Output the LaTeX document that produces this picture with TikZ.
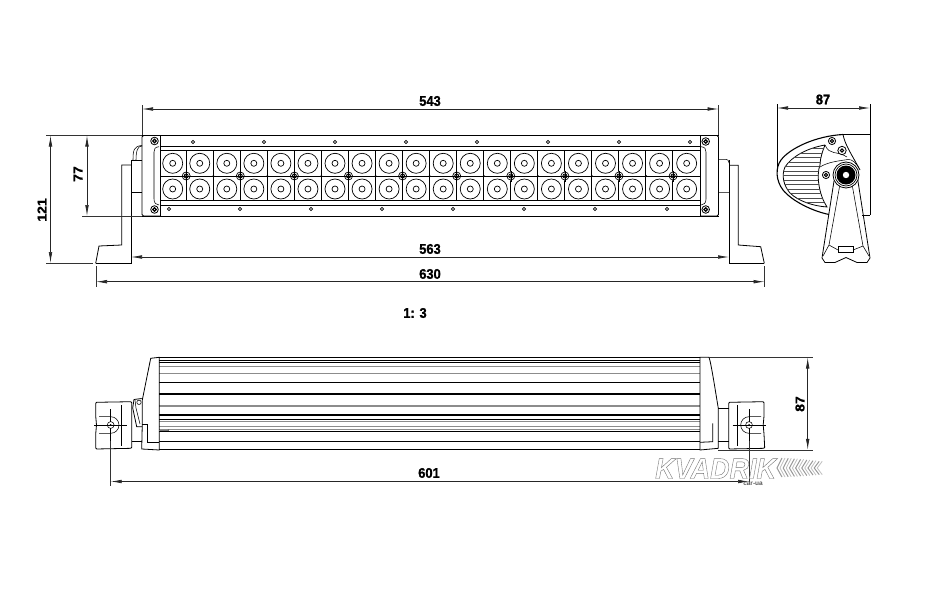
\documentclass[tikz,border=0pt]{standalone}
\usepackage{fontspec}
\setmainfont{Liberation Sans}
\newfontfamily\wmfont[FakeBold=1.4]{Liberation Sans Bold Italic}
\newfontfamily\dimfont[FakeBold=1.2]{Liberation Sans Bold}
\usetikzlibrary{arrows.meta}
\tikzset{
 ln/.style={line width=0.8pt,black},
 thin ln/.style={line width=0.55pt,black},
 grayln/.style={line width=1.3pt,black!45},
 heavy/.style={line width=1pt,black},
 dimline/.style={line width=0.7pt,black!85,{Latex[length=11pt,width=3.6pt]}-{Latex[length=11pt,width=3.6pt]}},
 ext/.style={line width=0.6pt,black!80},
 dimtext/.style={font=\dimfont\fontsize{14}{14}\selectfont,inner sep=0pt,xscale=0.92},
 center line/.style={line width=0.55pt,black},
}
\begin{document}
\begin{tikzpicture}[x=1pt,y=-1pt]
\useasboundingbox[fill=white] (0,0) rectangle (927,589);

% ---------- front view: plate ----------
\draw[ln] (142,135.5) -- (718.5,135.5);
\draw[ln] (142,216) -- (718.5,216);
\draw[ln,rounded corners=1.5pt] (160,135.5) -- (142,135.5) -- (142,216) -- (160,216);
\draw[ln,rounded corners=1.5pt] (700,135.5) -- (718.5,135.5) -- (718.5,216) -- (700,216);
\draw[ln] (160,135.5) -- (160,216) (700,135.5) -- (700,216);
\draw[ln] (160,146.7) -- (700,146.7);
\draw[ln] (160,205) -- (700,205);
\draw[thin ln] (159,146.7) .. controls (155,147) and (154,149) .. (154,152) -- (154,199) .. controls (154,203) and (156,205) .. (159,205);
\draw[thin ln] (701,146.7) .. controls (705,147) and (706,149) .. (706,152) -- (706,199) .. controls (706,203) and (704,205) .. (701,205);
% LED block
\draw[heavy] (160,150.7) rectangle (700,200);
\draw[thin ln] (160,176) -- (700,176);
\foreach \k in {1,...,19}{
  \pgfmathsetmacro{\xx}{159.5+27*\k}
  \pgfmathtruncatemacro{\odd}{mod(\k,2)}
  \ifnum\odd=0 \draw[heavy] (\xx,150.7) -- (\xx,200); \else \draw[thin ln] (\xx,150.7) -- (\xx,200); \fi
}
\foreach \k in {0,...,19}{
  \pgfmathsetmacro{\xx}{172.7+27.05*\k}
  \foreach \yy in {163.3,189}{
    \draw[line width=0.7pt,fill=white] (\xx,\yy) circle (10);
    \draw[line width=0.7pt] (\xx,\yy) circle (3);
  }
}
% centre screws
\foreach \k in {0,...,9}{
  \pgfmathsetmacro{\xx}{186.2+54.1*\k}
  \fill[white] (\xx,176) circle (4.5);
  \draw[line width=0.7pt] (\xx,176) circle (4);
  \draw[line width=0.9pt] (\xx,176) circle (2);
  \draw[line width=0.6pt] (\xx-5.5,176) -- (\xx+5.5,176) (\xx,170.5) -- (\xx,181.5);
}
\foreach \k in {0,...,18}{
  \pgfmathsetmacro{\xx}{186.2+27.05*\k}
  \fill (\xx,176) circle (1);
}
% strip holes
\foreach \xx in {193,264,335,406,477,548,619,690} \draw[line width=0.65pt,fill=white] (\xx,142) circle (1.7);
\foreach \xx in {169,240,311,382,453,524,595,667} \draw[line width=0.65pt,fill=white] (\xx,209) circle (1.7);
% corner screws
\foreach \xx/\yy in {154.5/141,154.5/209.5,705.7/141.5,705.7/209.5}{
  \draw[line width=0.8pt] (\xx,\yy) circle (3.8);
  \draw[line width=1.2pt] (\xx,\yy) circle (1.8);
}
% left bracket
\draw[ln] (95.7,263.3) -- (131,263.3) -- (131,160);
\draw[ln] (95.7,263.3) -- (99,246) -- (121.7,245) -- (121.7,165) -- (131,165);
\draw[thin ln] (131,160) -- (142,160) (131,192.7) -- (142,192.7);
\draw[thin ln] (133,160) .. controls (133,150) and (134,146) .. (142,145.5);
\draw[thin ln] (136,160) .. controls (136,150) and (138,146) .. (142,146);
% right bracket
\draw[ln] (764.3,263.3) -- (729,263.3) -- (729,160);
\draw[ln] (764.3,263.3) -- (760.7,246.7) -- (738.3,245) -- (738.3,165.3) -- (729,165.3);
\draw[thin ln] (718.5,159.3) -- (726,159.3) .. controls (728,159.3) and (729,161) .. (729,163) (718.5,192.7) -- (729,192.7);

% ---------- side view ----------
\draw[ln] (777,104) -- (777,172);
\draw[ln] (870,104) -- (870,215);
\draw[ln] (843,134.5) -- (870,134.5);
\draw[ln] (862,215) -- (870,215);
\draw[line width=1.1pt] (843,134.5) .. controls (816,136) and (790,148) .. (781,160)
  .. controls (775,168) and (776,181) .. (783,190) .. controls (792,201) and (812,211) .. (829,214.5);
\draw[ln] (825,145) .. controls (808,148) and (792,156) .. (785,167) .. controls (781,176) and (784,186) .. (790,193)
  .. controls (798,201) and (813,206) .. (827,207) .. controls (819,195) and (816,175) .. (820,165) .. controls (820,158) and (823,150) .. (825,145);
\begin{scope}
 \clip (825,145) .. controls (808,148) and (792,156) .. (785,167) .. controls (781,176) and (784,186) .. (790,193)
  .. controls (798,201) and (813,206) .. (827,207) .. controls (819,195) and (816,175) .. (820,165) .. controls (820,158) and (823,150) .. (825,145);
 \foreach \yy in {148.5,153,157.5,162,166.5,171,175.5,180,184.5,189,193.5,198,202.5}
   \draw[line width=1pt,black!70] (780,\yy) -- (830,\yy);
\end{scope}
\draw[ln] (843,134.5) .. controls (845,145) and (852,155) .. (860,170);
\draw[thin ln] (820,167) .. controls (828,162) and (838,161) .. (848,159.5) .. controls (852,159) and (856,163) .. (859,168);
\draw[thin ln] (825,145) .. controls (830,156) and (836,150) .. (847,157);
% legs
\draw[ln] (834,181) -- (822,258) -- (825,262.5) -- (835,262.5) -- (846,257.5) -- (857,262.5) -- (867,262.5) -- (870,258) -- (857,175);
\draw[thin ln] (840,184) -- (829,245) -- (823,256);
\draw[thin ln] (852,184) -- (863,246) -- (869,256);
\draw[thin ln] (829,245) -- (838,250) (863,246) -- (853,250);
\draw[thin ln] (838,246) rectangle (853,252);
% knob
\draw[ln,fill=white] (846,175) circle (13);
\draw[line width=0.7pt] (846,175) circle (11);
\fill (846,175) circle (9.5);
\fill[white] (846,175) circle (3.2);
\foreach \xx/\yy/\rr in {832/141/3.6,842/150.5/4.2,826/175/3.6}{
  \draw[line width=0.8pt,fill=white] (\xx,\yy) circle (\rr);
  \draw[line width=1.1pt] (\xx,\yy) circle (1.7);
}

% ---------- bottom view ----------
\draw[line width=0.8pt] (159.3,357.5) -- (700,357.5);
\foreach \yy in {360,362.8} \draw[line width=0.9pt] (159.3,\yy) -- (700,\yy);
\foreach \yy in {366.5,373.8,405.9,421.8,426.2,429.2} \draw[grayln] (159.3,\yy) -- (700,\yy);
\foreach \yy in {382.2,419.2,431,441.7,449.3} \draw[line width=0.9pt] (159.3,\yy) -- (700,\yy);
\foreach \yy in {394,415} \draw[line width=1.4pt] (159.3,\yy) -- (700,\yy);
% left cap
\draw[ln] (159.3,357.3) -- (150.7,358.3) -- (142.3,400) -- (142.3,423) -- (141.7,449) -- (159.3,450) -- cycle;
\draw[ln] (142.3,424) -- (147.3,424) -- (147.3,442.3) -- (159.3,442.3);
\draw[line width=0.6pt,black!55] (159.3,430) -- (169,430);
\fill[black!60] (168.5,430) circle (0.9);
% knob
\draw[ln] (141.7,398.5) -- (134,399.5) -- (132.7,408) -- (136.7,426.7) -- (142,426.7);
\draw[thin ln] (135,400) -- (136,408) -- (140,424);
\draw[thin ln,fill=white] (139,402.3) circle (2.2);
\draw[ln] (131.7,441.7) -- (142,441.7);
% right cap
\draw[ln] (700,357.3) -- (709,357.3) .. controls (711,362) and (716,395) .. (718.3,408.3) -- (718.3,448.3) -- (700,450) -- cycle;
\draw[ln] (712.7,423.3) -- (712.7,441.7) -- (700,442.3);
\draw[thin ln] (718.3,408.3) -- (728.7,408.3) (718.3,441.7) -- (728.7,441.7);
% left block
\draw[ln,rounded corners=1pt] (131.7,401.7) -- (95.7,402.3) -- (95.7,416) -- (96.5,425) -- (95.7,434) -- (95.7,449) -- (131.7,448.3) -- cycle;
\draw[thin ln] (99,416.7) -- (110.7,416.7) arc[start angle=-90,end angle=90,radius=8.3] -- (99,433.3);
\draw[thin ln,fill=white] (110.7,425) circle (3.4);
\fill (110.7,425) circle (1);
\draw[center line] (94,425) -- (127,425);
\draw[center line] (110.7,409) -- (110.7,422) (110.7,428) -- (110.7,441);
\draw[heavy] (121.7,405) -- (121.7,445.7);
% right block
\draw[ln,rounded corners=1pt] (728.7,402.3) -- (764,401.7) -- (764,416) -- (763.2,425) -- (764,434) -- (764.7,448.3) -- (728.7,449) -- cycle;
\draw[thin ln] (761,416.7) -- (749,416.7) arc[start angle=270,end angle=90,radius=8.3] -- (761,433.3);
\draw[thin ln,fill=white] (749,425) circle (3.4);
\fill (749,425) circle (1);
\draw[center line] (732.7,425) -- (765.7,425);
\draw[center line] (749,409) -- (749,422) (749,428) -- (749,441);
\draw[heavy] (737.7,405) -- (737.7,445.7);

% ---------- dimensions ----------
\coordinate (a1) at (142,109); \coordinate (a2) at (718.5,109);
\draw[ext] (142,105) -- (142,135) (718.5,105) -- (718.5,135);
\draw[dimline] (a1) -- (a2);
\node[dimtext] (t543) at (430,101) {543};

\coordinate (b1) at (87,135.5); \coordinate (b2) at (87,216);
\draw[ext] (46,135.5) -- (142,135.5) (82,216) -- (142,216);
\draw[dimline] (b1) -- (b2);
\node[dimtext,rotate=90] (t77) at (78,174) {77};

\coordinate (c1) at (50.5,135.5); \coordinate (c2) at (50.5,263);
\draw[ext] (46,263) -- (93,263);
\draw[dimline] (c1) -- (c2);
\node[dimtext,rotate=90] (t121) at (42,210) {121};

\coordinate (d1) at (131,257); \coordinate (d2) at (729,257);
\draw[dimline] (d1) -- (d2);
\node[dimtext] (t563) at (430,249) {563};

\coordinate (e1) at (96,281.7); \coordinate (e2) at (764.5,281.7);
\draw[ext] (96,266) -- (96,286.5) (764.5,266) -- (764.5,286.5);
\draw[dimline] (e1) -- (e2);
\node[dimtext] (t630) at (430,274) {630};

\coordinate (f1) at (777,108); \coordinate (f2) at (870,108);
\draw[dimline] (f1) -- (f2);
\node[dimtext] (t87a) at (823,99.5) {87};

\node[dimtext] (scale) at (415,313) {1: 3};

\coordinate (g1) at (807.7,357.5); \coordinate (g2) at (807.7,449.8);
\draw[ext] (709,357.5) -- (812.7,357.5) (718,449.8) -- (812.7,449.8);
\draw[dimline] (g1) -- (g2);
\node[dimtext,rotate=90] (t87b) at (800,404) {87};

\coordinate (h1) at (110.7,481.5); \coordinate (h2) at (749,481.5);
\draw[ext] (110.7,441) -- (110.7,486) (749,441) -- (749,486);
\draw[dimline] (h1) -- (h2);
\node[dimtext] (t601) at (429,473) {601};

% ---------- watermark (over the drawing) ----------
\foreach \k/\hh in {0/1,1/0.97,2/0.93,3/0.88,4/0.82,5/0.76,6/0.7}{
  \pgfmathsetmacro{\xx}{777+6.2*\k}
  \draw[black!40,line width=1pt] (\xx+5,{469-11*\hh}) -- (\xx,468) -- (\xx+5,{469+8*\hh});
  \draw[black!25,line width=0.8pt] (\xx+8,{469-11*\hh}) -- (\xx+3,468) -- (\xx+8,{469+8*\hh});
}
\node[inner sep=0pt,anchor=base west,text=white,xscale=0.93] (wm) at (655,478.5)
  {\special{pdf:code 0.45 G}\wmfont\fontsize{29}{29}\selectfont KVADRIK};
\node[inner sep=0.5pt,fill=white,font=\bfseries\fontsize{6.5}{6.5}\selectfont,text=black!65,anchor=north] (wmsub) at (753,481.5) {car-ua};
\end{tikzpicture}
\end{document}
